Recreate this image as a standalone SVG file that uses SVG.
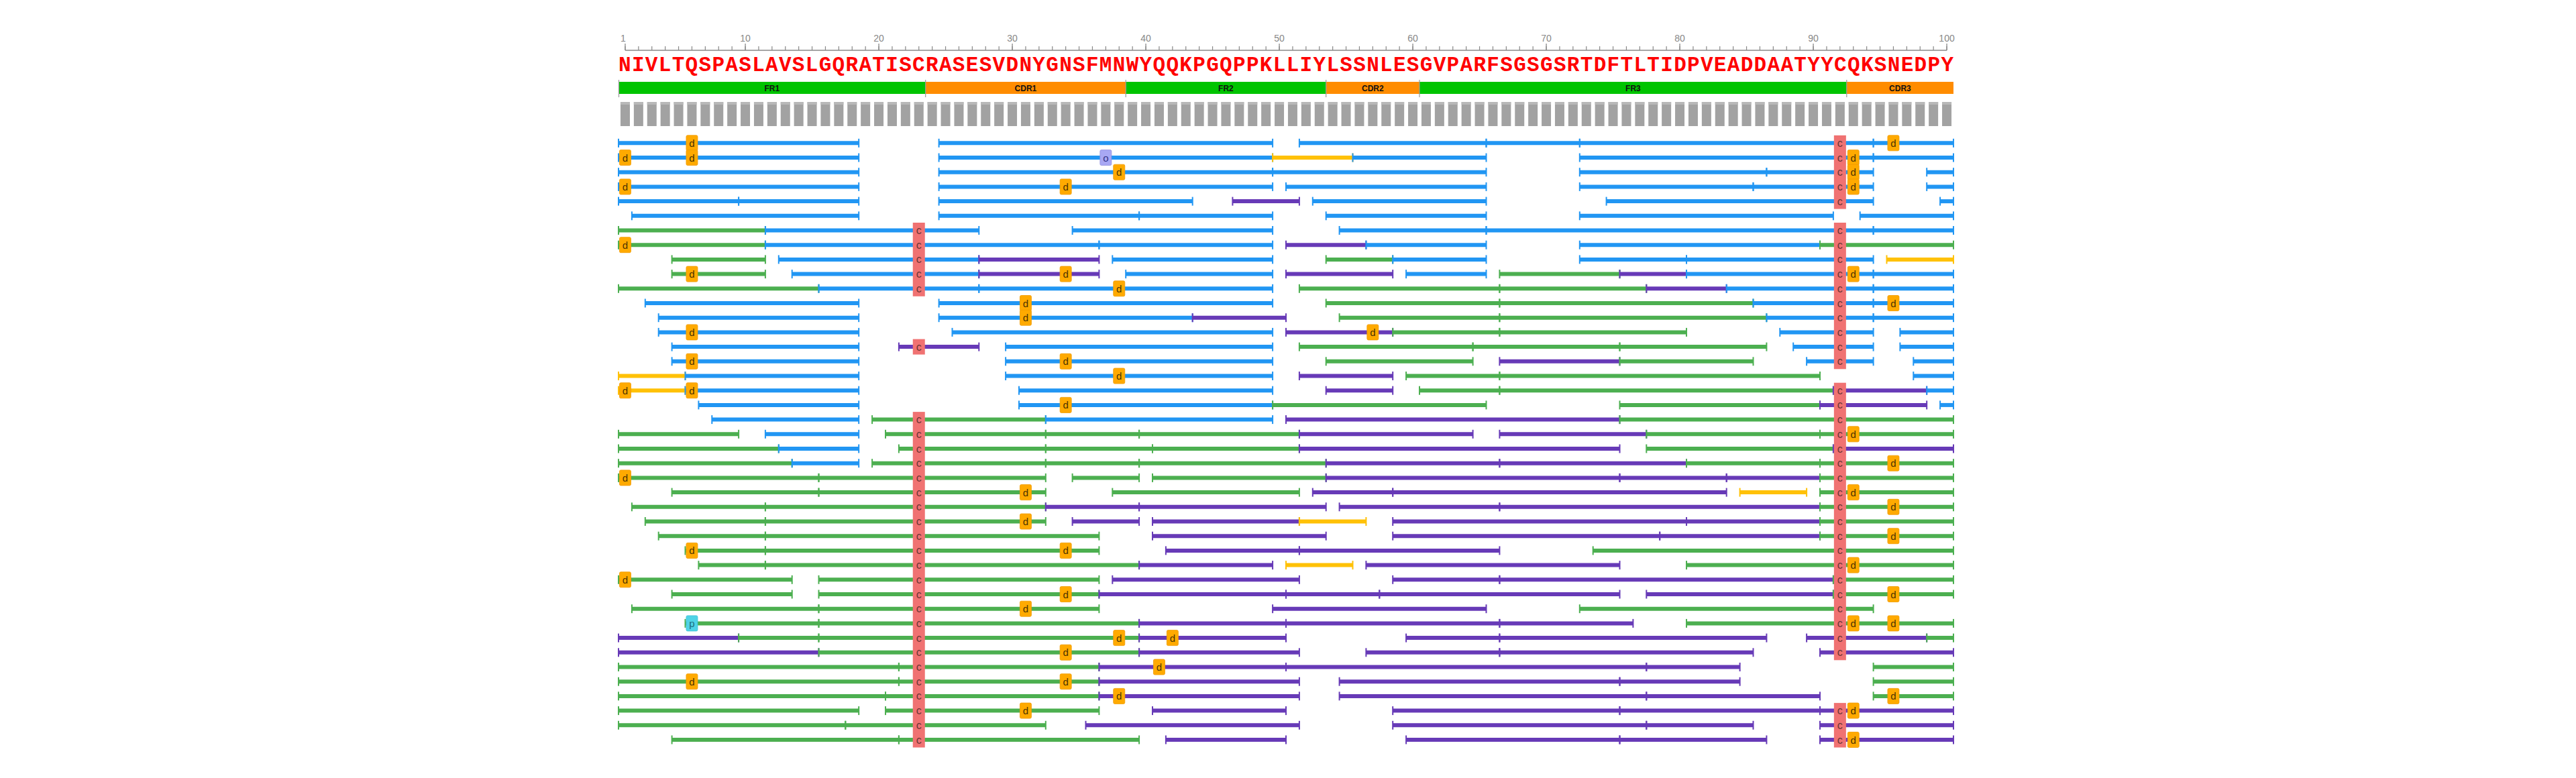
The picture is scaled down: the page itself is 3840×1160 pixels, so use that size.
<svg xmlns="http://www.w3.org/2000/svg" width="3840" height="1160" viewBox="0 0 3840 1160">
<defs>
<marker id="cb" markerUnits="userSpaceOnUse" markerWidth="4" markerHeight="16" viewBox="0 0 4 16" refX="2" refY="8"><rect x="1" y="1.5" width="2" height="13" fill="#2196F3"/></marker>
<marker id="cg" markerUnits="userSpaceOnUse" markerWidth="4" markerHeight="16" viewBox="0 0 4 16" refX="2" refY="8"><rect x="1" y="1.5" width="2" height="13" fill="#4CAF50"/></marker>
<marker id="cp" markerUnits="userSpaceOnUse" markerWidth="4" markerHeight="16" viewBox="0 0 4 16" refX="2" refY="8"><rect x="1" y="1.5" width="2" height="13" fill="#673AB7"/></marker>
<marker id="cy" markerUnits="userSpaceOnUse" markerWidth="4" markerHeight="16" viewBox="0 0 4 16" refX="2" refY="8"><rect x="1" y="1.5" width="2" height="13" fill="#FFC107"/></marker>
</defs>
<style>
.b,.g,.p,.y{stroke-width:6;fill:none}
.b{stroke:#2196F3;marker-start:url(#cb);marker-end:url(#cb)}
.g{stroke:#4CAF50;marker-start:url(#cg);marker-end:url(#cg)}
.p{stroke:#673AB7;marker-start:url(#cp);marker-end:url(#cp)}
.y{stroke:#FFC107;marker-start:url(#cy);marker-end:url(#cy)}
.md{fill:#FFAA00;stroke:#F09A00;stroke-width:0.8}
.mo{fill:#A8A8F4;stroke:#9090E0;stroke-width:0.8}
.mp{fill:#4FD3E6;stroke:#3CC0D6;stroke-width:0.8}
.tm{font-family:"Liberation Sans",Arial,sans-serif;font-size:15px;fill:#4a3300;text-anchor:middle}
.to{font-family:"Liberation Sans",Arial,sans-serif;font-size:15px;fill:#36368a;text-anchor:middle}
.tp{font-family:"Liberation Sans",Arial,sans-serif;font-size:15px;fill:#1d6f80;text-anchor:middle}
.cy{fill:#F07272}
.tc{font-family:"Liberation Sans",Arial,sans-serif;font-size:16px;fill:#6a3535;text-anchor:middle}
.rl{font-family:"Liberation Sans",Arial,sans-serif;font-size:14px;fill:#888;text-anchor:middle}
.rg{font-family:"Liberation Sans",Arial,sans-serif;font-size:12px;font-weight:bold;fill:#111;text-anchor:middle}
.seq{font-family:"Liberation Mono","Courier New",monospace;font-size:31px;font-weight:bold;fill:#FF0000}
</style>
<rect width="3840" height="1160" fill="#fff"/>

<g id="ruler">
<line x1="931.95" y1="75" x2="2902.05" y2="75" stroke="#888" stroke-width="1.5"/>
<line x1="931.35" y1="72" x2="2903" y2="72" stroke="#888" stroke-width="6" stroke-dasharray="1.2 18.7"/>
<path d="M931.95 65V75M1111.05 65V75M1310.05 65V75M1509.05 65V75M1708.05 65V75M1907.05 65V75M2106.05 65V75M2305.05 65V75M2504.05 65V75M2703.05 65V75M2902.05 65V75" stroke="#888" stroke-width="1.3"/>
<text class="rl" x="929" y="62">1</text>
<text class="rl" x="1111.05" y="62">10</text>
<text class="rl" x="1310.05" y="62">20</text>
<text class="rl" x="1509.05" y="62">30</text>
<text class="rl" x="1708.05" y="62">40</text>
<text class="rl" x="1907.05" y="62">50</text>
<text class="rl" x="2106.05" y="62">60</text>
<text class="rl" x="2305.05" y="62">70</text>
<text class="rl" x="2504.05" y="62">80</text>
<text class="rl" x="2703.05" y="62">90</text>
<text class="rl" x="2902.05" y="62">100</text>
</g>

<g id="sequence">
<text class="seq" x="922" y="106" textLength="1990" lengthAdjust="spacing">NIVLTQSPASLAVSLGQRATISCRASESVDNYGNSFMNWYQQKPGQPPKLLIYLSSNLESGVPARFSGSGSRTDFTLTIDPVEADDAATYYCQKSNEDPY</text>
</g>

<g id="regions">
<rect x="922" y="122" width="457.7" height="18" fill="#00C400"/>
<rect x="1379.7" y="122" width="298.5" height="18" fill="#FF8C00"/>
<rect x="1678.2" y="122" width="298.5" height="18" fill="#00C400"/>
<rect x="1976.7" y="122" width="139.3" height="18" fill="#FF8C00"/>
<rect x="2116" y="122" width="636.8" height="18" fill="#00C400"/>
<rect x="2752.8" y="122" width="159.2" height="18" fill="#FF8C00"/>
<path d="M922.5 119V145M1379.7 119V145M1678.2 119V145M1976.7 119V145M2116 119V145M2752.8 119V145" stroke="#999" stroke-width="1.2"/>
<text class="rg" x="1150.85" y="135.5">FR1</text>
<text class="rg" x="1528.95" y="135.5">CDR1</text>
<text class="rg" x="1827.45" y="135.5">FR2</text>
<text class="rg" x="2046.35" y="135.5">CDR2</text>
<text class="rg" x="2434.4" y="135.5">FR3</text>
<text class="rg" x="2832.4" y="135.5">CDR3</text>
</g>

<g id="coverage">
<line x1="924.95" y1="170" x2="2912" y2="170" stroke="#A2A2A2" stroke-width="36" stroke-dasharray="14 5.9"/>
<line x1="924.95" y1="154" x2="2912" y2="154" stroke="#B8B8B8" stroke-width="4" stroke-dasharray="14 5.9"/>
</g>

<g id="reads">
<g id="read-1" transform="translate(0,213.3)">
<line class="b" x1="922" x2="1280.2"/><line class="b" x1="1399.6" x2="1897.1"/><line class="b" x1="1936.9" x2="2215.5"/><line class="b" x1="2215.5" x2="2354.8"/><line class="b" x1="2354.8" x2="2792.6"/><line class="b" x1="2792.6" x2="2912"/>
<rect class="md" x="1022.95" y="-11.5" width="17" height="23" rx="2"/><text class="tm" x="1031.45" y="5.5">d</text>
<rect class="md" x="2813.95" y="-11.5" width="17" height="23" rx="2"/><text class="tm" x="2822.45" y="5.5">d</text>
</g>
<g id="read-2" transform="translate(0,235)">
<line class="b" x1="922" x2="1280.2"/><line class="b" x1="1399.6" x2="1897.1"/><line class="y" x1="1897.1" x2="2016.5"/><line class="b" x1="2016.5" x2="2215.5"/><line class="b" x1="2354.8" x2="2792.6"/><line class="b" x1="2792.6" x2="2912"/>
<rect class="md" x="923.45" y="-11.5" width="17" height="23" rx="2"/><text class="tm" x="931.95" y="5.5">d</text>
<rect class="md" x="1022.95" y="-11.5" width="17" height="23" rx="2"/><text class="tm" x="1031.45" y="5.5">d</text>
<rect class="mo" x="1639.85" y="-11.5" width="17" height="23" rx="2"/><text class="to" x="1648.35" y="5.5">o</text>
<rect class="md" x="2754.25" y="-11.5" width="17" height="23" rx="2"/><text class="tm" x="2762.75" y="5.5">d</text>
</g>
<g id="read-3" transform="translate(0,256.7)">
<line class="b" x1="922" x2="1280.2"/><line class="b" x1="1399.6" x2="1897.1"/><line class="b" x1="1897.1" x2="2215.5"/><line class="b" x1="2354.8" x2="2633.4"/><line class="b" x1="2633.4" x2="2792.6"/><line class="b" x1="2872.2" x2="2912"/>
<rect class="md" x="1659.75" y="-11.5" width="17" height="23" rx="2"/><text class="tm" x="1668.25" y="5.5">d</text>
<rect class="md" x="2754.25" y="-11.5" width="17" height="23" rx="2"/><text class="tm" x="2762.75" y="5.5">d</text>
</g>
<g id="read-4" transform="translate(0,278.4)">
<line class="b" x1="922" x2="1280.2"/><line class="b" x1="1399.6" x2="1897.1"/><line class="b" x1="1917" x2="2215.5"/><line class="b" x1="2354.8" x2="2613.5"/><line class="b" x1="2613.5" x2="2792.6"/><line class="b" x1="2872.2" x2="2912"/>
<rect class="md" x="923.45" y="-11.5" width="17" height="23" rx="2"/><text class="tm" x="931.95" y="5.5">d</text>
<rect class="md" x="1580.15" y="-11.5" width="17" height="23" rx="2"/><text class="tm" x="1588.65" y="5.5">d</text>
<rect class="md" x="2754.25" y="-11.5" width="17" height="23" rx="2"/><text class="tm" x="2762.75" y="5.5">d</text>
</g>
<g id="read-5" transform="translate(0,300.1)">
<line class="b" x1="922" x2="1101.1"/><line class="b" x1="1101.1" x2="1280.2"/><line class="b" x1="1399.6" x2="1777.7"/><line class="p" x1="1837.4" x2="1936.9"/><line class="b" x1="1956.8" x2="2215.5"/><line class="b" x1="2394.6" x2="2792.6"/><line class="b" x1="2892.1" x2="2912"/>
</g>
<g id="read-6" transform="translate(0,321.8)">
<line class="b" x1="941.9" x2="1280.2"/><line class="b" x1="1399.6" x2="1698.1"/><line class="b" x1="1698.1" x2="1897.1"/><line class="b" x1="1976.7" x2="2215.5"/><line class="b" x1="2354.8" x2="2732.9"/><line class="b" x1="2772.7" x2="2912"/>
</g>
<g id="read-7" transform="translate(0,343.5)">
<line class="g" x1="922" x2="1140.9"/><line class="b" x1="1140.9" x2="1459.3"/><line class="b" x1="1598.6" x2="1897.1"/><line class="b" x1="1996.6" x2="2215.5"/><line class="b" x1="2215.5" x2="2792.6"/><line class="b" x1="2792.6" x2="2912"/>
</g>
<g id="read-8" transform="translate(0,365.2)">
<line class="g" x1="922" x2="1140.9"/><line class="b" x1="1140.9" x2="1638.4"/><line class="b" x1="1638.4" x2="1897.1"/><line class="p" x1="1917" x2="2036.4"/><line class="b" x1="2036.4" x2="2215.5"/><line class="b" x1="2354.8" x2="2713"/><line class="g" x1="2713" x2="2912"/>
<rect class="md" x="923.45" y="-11.5" width="17" height="23" rx="2"/><text class="tm" x="931.95" y="5.5">d</text>
</g>
<g id="read-9" transform="translate(0,386.9)">
<line class="g" x1="1001.6" x2="1140.9"/><line class="b" x1="1160.8" x2="1459.3"/><line class="p" x1="1459.3" x2="1638.4"/><line class="b" x1="1658.3" x2="1897.1"/><line class="g" x1="1976.7" x2="2076.2"/><line class="b" x1="2076.2" x2="2215.5"/><line class="b" x1="2354.8" x2="2514"/><line class="b" x1="2514" x2="2792.6"/><line class="y" x1="2812.5" x2="2912"/>
</g>
<g id="read-10" transform="translate(0,408.6)">
<line class="g" x1="1001.6" x2="1140.9"/><line class="b" x1="1180.7" x2="1459.3"/><line class="p" x1="1459.3" x2="1638.4"/><line class="b" x1="1678.2" x2="1897.1"/><line class="p" x1="1917" x2="2076.2"/><line class="b" x1="2096.1" x2="2215.5"/><line class="g" x1="2235.4" x2="2414.5"/><line class="p" x1="2414.5" x2="2514"/><line class="b" x1="2514" x2="2792.6"/><line class="b" x1="2792.6" x2="2912"/>
<rect class="md" x="1022.95" y="-11.5" width="17" height="23" rx="2"/><text class="tm" x="1031.45" y="5.5">d</text>
<rect class="md" x="1580.15" y="-11.5" width="17" height="23" rx="2"/><text class="tm" x="1588.65" y="5.5">d</text>
<rect class="md" x="2754.25" y="-11.5" width="17" height="23" rx="2"/><text class="tm" x="2762.75" y="5.5">d</text>
</g>
<g id="read-11" transform="translate(0,430.3)">
<line class="g" x1="922" x2="1220.5"/><line class="b" x1="1220.5" x2="1459.3"/><line class="b" x1="1459.3" x2="1897.1"/><line class="g" x1="1936.9" x2="2235.4"/><line class="g" x1="2235.4" x2="2454.3"/><line class="p" x1="2454.3" x2="2573.7"/><line class="b" x1="2573.7" x2="2792.6"/><line class="b" x1="2792.6" x2="2912"/>
<rect class="md" x="1659.75" y="-11.5" width="17" height="23" rx="2"/><text class="tm" x="1668.25" y="5.5">d</text>
</g>
<g id="read-12" transform="translate(0,452)">
<line class="b" x1="961.8" x2="1280.2"/><line class="b" x1="1399.6" x2="1897.1"/><line class="g" x1="1976.7" x2="2235.4"/><line class="g" x1="2235.4" x2="2613.5"/><line class="b" x1="2613.5" x2="2792.6"/><line class="b" x1="2792.6" x2="2912"/>
<rect class="md" x="1520.45" y="-11.5" width="17" height="23" rx="2"/><text class="tm" x="1528.95" y="5.5">d</text>
<rect class="md" x="2813.95" y="-11.5" width="17" height="23" rx="2"/><text class="tm" x="2822.45" y="5.5">d</text>
</g>
<g id="read-13" transform="translate(0,473.7)">
<line class="b" x1="981.7" x2="1280.2"/><line class="b" x1="1399.6" x2="1777.7"/><line class="p" x1="1777.7" x2="1917"/><line class="g" x1="1996.6" x2="2235.4"/><line class="g" x1="2235.4" x2="2633.4"/><line class="b" x1="2633.4" x2="2792.6"/><line class="b" x1="2792.6" x2="2912"/>
<rect class="md" x="1520.45" y="-11.5" width="17" height="23" rx="2"/><text class="tm" x="1528.95" y="5.5">d</text>
</g>
<g id="read-14" transform="translate(0,495.4)">
<line class="b" x1="981.7" x2="1280.2"/><line class="b" x1="1419.5" x2="1897.1"/><line class="p" x1="1917" x2="2076.2"/><line class="g" x1="2076.2" x2="2235.4"/><line class="g" x1="2235.4" x2="2514"/><line class="b" x1="2653.3" x2="2792.6"/><line class="b" x1="2832.4" x2="2912"/>
<rect class="md" x="1022.95" y="-11.5" width="17" height="23" rx="2"/><text class="tm" x="1031.45" y="5.5">d</text>
<rect class="md" x="2037.85" y="-11.5" width="17" height="23" rx="2"/><text class="tm" x="2046.35" y="5.5">d</text>
</g>
<g id="read-15" transform="translate(0,517.1)">
<line class="b" x1="1001.6" x2="1280.2"/><line class="p" x1="1339.9" x2="1459.3"/><line class="b" x1="1499.1" x2="1897.1"/><line class="g" x1="1936.9" x2="2195.6"/><line class="g" x1="2195.6" x2="2414.5"/><line class="g" x1="2414.5" x2="2633.4"/><line class="b" x1="2673.2" x2="2792.6"/><line class="b" x1="2832.4" x2="2912"/>
</g>
<g id="read-16" transform="translate(0,538.8)">
<line class="b" x1="1001.6" x2="1280.2"/><line class="b" x1="1499.1" x2="1897.1"/><line class="g" x1="1976.7" x2="2195.6"/><line class="p" x1="2235.4" x2="2414.5"/><line class="g" x1="2414.5" x2="2613.5"/><line class="b" x1="2693.1" x2="2792.6"/><line class="b" x1="2852.3" x2="2912"/>
<rect class="md" x="1022.95" y="-11.5" width="17" height="23" rx="2"/><text class="tm" x="1031.45" y="5.5">d</text>
<rect class="md" x="1580.15" y="-11.5" width="17" height="23" rx="2"/><text class="tm" x="1588.65" y="5.5">d</text>
</g>
<g id="read-17" transform="translate(0,560.5)">
<line class="y" x1="922" x2="1021.5"/><line class="b" x1="1021.5" x2="1280.2"/><line class="b" x1="1499.1" x2="1897.1"/><line class="p" x1="1936.9" x2="2076.2"/><line class="g" x1="2096.1" x2="2235.4"/><line class="g" x1="2235.4" x2="2713"/><line class="b" x1="2852.3" x2="2912"/>
<rect class="md" x="1659.75" y="-11.5" width="17" height="23" rx="2"/><text class="tm" x="1668.25" y="5.5">d</text>
</g>
<g id="read-18" transform="translate(0,582.2)">
<line class="y" x1="922" x2="1021.5"/><line class="b" x1="1021.5" x2="1280.2"/><line class="b" x1="1519" x2="1897.1"/><line class="p" x1="1976.7" x2="2076.2"/><line class="g" x1="2116" x2="2235.4"/><line class="g" x1="2235.4" x2="2732.9"/><line class="p" x1="2732.9" x2="2872.2"/><line class="b" x1="2872.2" x2="2912"/>
<rect class="md" x="923.45" y="-11.5" width="17" height="23" rx="2"/><text class="tm" x="931.95" y="5.5">d</text>
<rect class="md" x="1022.95" y="-11.5" width="17" height="23" rx="2"/><text class="tm" x="1031.45" y="5.5">d</text>
</g>
<g id="read-19" transform="translate(0,603.9)">
<line class="b" x1="1041.4" x2="1280.2"/><line class="b" x1="1519" x2="1897.1"/><line class="g" x1="1897.1" x2="2215.5"/><line class="g" x1="2414.5" x2="2713"/><line class="p" x1="2713" x2="2872.2"/><line class="b" x1="2892.1" x2="2912"/>
<rect class="md" x="1580.15" y="-11.5" width="17" height="23" rx="2"/><text class="tm" x="1588.65" y="5.5">d</text>
</g>
<g id="read-20" transform="translate(0,625.6)">
<line class="b" x1="1061.3" x2="1280.2"/><line class="g" x1="1300.1" x2="1558.8"/><line class="b" x1="1558.8" x2="1897.1"/><line class="p" x1="1917" x2="2414.5"/><line class="g" x1="2414.5" x2="2912"/>
</g>
<g id="read-21" transform="translate(0,647.3)">
<line class="g" x1="922" x2="1101.1"/><line class="b" x1="1140.9" x2="1280.2"/><line class="g" x1="1320" x2="1558.8"/><line class="g" x1="1558.8" x2="1698.1"/><line class="g" x1="1698.1" x2="1936.9"/><line class="p" x1="1936.9" x2="2195.6"/><line class="p" x1="2235.4" x2="2454.3"/><line class="g" x1="2454.3" x2="2713"/><line class="g" x1="2713" x2="2912"/>
<rect class="md" x="2754.25" y="-11.5" width="17" height="23" rx="2"/><text class="tm" x="2762.75" y="5.5">d</text>
</g>
<g id="read-22" transform="translate(0,669)">
<line class="g" x1="922" x2="1160.8"/><line class="b" x1="1160.8" x2="1280.2"/><line class="g" x1="1339.9" x2="1558.8"/><line class="g" x1="1558.8" x2="1718"/><line class="g" x1="1718" x2="1936.9"/><line class="p" x1="1936.9" x2="2414.5"/><line class="g" x1="2454.3" x2="2732.9"/><line class="p" x1="2732.9" x2="2912"/>
</g>
<g id="read-23" transform="translate(0,690.7)">
<line class="g" x1="922" x2="1180.7"/><line class="b" x1="1180.7" x2="1280.2"/><line class="g" x1="1300.1" x2="1558.8"/><line class="g" x1="1558.8" x2="1698.1"/><line class="g" x1="1698.1" x2="1976.7"/><line class="p" x1="1976.7" x2="2235.4"/><line class="p" x1="2235.4" x2="2514"/><line class="g" x1="2514" x2="2713"/><line class="g" x1="2713" x2="2912"/>
<rect class="md" x="2813.95" y="-11.5" width="17" height="23" rx="2"/><text class="tm" x="2822.45" y="5.5">d</text>
</g>
<g id="read-24" transform="translate(0,712.4)">
<line class="g" x1="922" x2="1220.5"/><line class="g" x1="1220.5" x2="1558.8"/><line class="g" x1="1598.6" x2="1698.1"/><line class="g" x1="1718" x2="1976.7"/><line class="p" x1="1976.7" x2="2414.5"/><line class="p" x1="2414.5" x2="2573.7"/><line class="p" x1="2573.7" x2="2713"/><line class="g" x1="2713" x2="2912"/>
<rect class="md" x="923.45" y="-11.5" width="17" height="23" rx="2"/><text class="tm" x="931.95" y="5.5">d</text>
</g>
<g id="read-25" transform="translate(0,734.1)">
<line class="g" x1="1001.6" x2="1220.5"/><line class="g" x1="1220.5" x2="1558.8"/><line class="g" x1="1658.3" x2="1936.9"/><line class="p" x1="1956.8" x2="2076.2"/><line class="p" x1="2076.2" x2="2573.7"/><line class="y" x1="2593.6" x2="2693.1"/><line class="g" x1="2713" x2="2912"/>
<rect class="md" x="1520.45" y="-11.5" width="17" height="23" rx="2"/><text class="tm" x="1528.95" y="5.5">d</text>
<rect class="md" x="2754.25" y="-11.5" width="17" height="23" rx="2"/><text class="tm" x="2762.75" y="5.5">d</text>
</g>
<g id="read-26" transform="translate(0,755.8)">
<line class="g" x1="941.9" x2="1140.9"/><line class="g" x1="1140.9" x2="1558.8"/><line class="p" x1="1558.8" x2="1698.1"/><line class="p" x1="1698.1" x2="1976.7"/><line class="p" x1="1996.6" x2="2235.4"/><line class="p" x1="2235.4" x2="2713"/><line class="g" x1="2713" x2="2912"/>
<rect class="md" x="2813.95" y="-11.5" width="17" height="23" rx="2"/><text class="tm" x="2822.45" y="5.5">d</text>
</g>
<g id="read-27" transform="translate(0,777.5)">
<line class="g" x1="961.8" x2="1140.9"/><line class="g" x1="1140.9" x2="1558.8"/><line class="p" x1="1598.6" x2="1698.1"/><line class="p" x1="1718" x2="1936.9"/><line class="y" x1="1936.9" x2="2036.4"/><line class="p" x1="2076.2" x2="2514"/><line class="p" x1="2514" x2="2713"/><line class="g" x1="2713" x2="2912"/>
<rect class="md" x="1520.45" y="-11.5" width="17" height="23" rx="2"/><text class="tm" x="1528.95" y="5.5">d</text>
</g>
<g id="read-28" transform="translate(0,799.2)">
<line class="g" x1="981.7" x2="1140.9"/><line class="g" x1="1140.9" x2="1638.4"/><line class="p" x1="1718" x2="1976.7"/><line class="p" x1="2076.2" x2="2474.2"/><line class="p" x1="2474.2" x2="2713"/><line class="g" x1="2713" x2="2912"/>
<rect class="md" x="2813.95" y="-11.5" width="17" height="23" rx="2"/><text class="tm" x="2822.45" y="5.5">d</text>
</g>
<g id="read-29" transform="translate(0,820.9)">
<line class="g" x1="1021.5" x2="1140.9"/><line class="g" x1="1140.9" x2="1638.4"/><line class="p" x1="1737.9" x2="1936.9"/><line class="p" x1="1936.9" x2="2235.4"/><line class="g" x1="2374.7" x2="2912"/>
<rect class="md" x="1022.95" y="-11.5" width="17" height="23" rx="2"/><text class="tm" x="1031.45" y="5.5">d</text>
<rect class="md" x="1580.15" y="-11.5" width="17" height="23" rx="2"/><text class="tm" x="1588.65" y="5.5">d</text>
</g>
<g id="read-30" transform="translate(0,842.6)">
<line class="g" x1="1041.4" x2="1140.9"/><line class="g" x1="1140.9" x2="1698.1"/><line class="p" x1="1698.1" x2="1897.1"/><line class="y" x1="1917" x2="2016.5"/><line class="p" x1="2036.4" x2="2414.5"/><line class="g" x1="2514" x2="2912"/>
<rect class="md" x="2754.25" y="-11.5" width="17" height="23" rx="2"/><text class="tm" x="2762.75" y="5.5">d</text>
</g>
<g id="read-31" transform="translate(0,864.3)">
<line class="g" x1="922" x2="1180.7"/><line class="g" x1="1220.5" x2="1638.4"/><line class="p" x1="1658.3" x2="1936.9"/><line class="p" x1="2076.2" x2="2235.4"/><line class="p" x1="2235.4" x2="2732.9"/><line class="g" x1="2732.9" x2="2912"/>
<rect class="md" x="923.45" y="-11.5" width="17" height="23" rx="2"/><text class="tm" x="931.95" y="5.5">d</text>
</g>
<g id="read-32" transform="translate(0,886)">
<line class="g" x1="1001.6" x2="1180.7"/><line class="g" x1="1220.5" x2="1638.4"/><line class="p" x1="1638.4" x2="1917"/><line class="p" x1="1917" x2="2056.3"/><line class="p" x1="2056.3" x2="2414.5"/><line class="p" x1="2454.3" x2="2732.9"/><line class="g" x1="2732.9" x2="2912"/>
<rect class="md" x="1580.15" y="-11.5" width="17" height="23" rx="2"/><text class="tm" x="1588.65" y="5.5">d</text>
<rect class="md" x="2813.95" y="-11.5" width="17" height="23" rx="2"/><text class="tm" x="2822.45" y="5.5">d</text>
</g>
<g id="read-33" transform="translate(0,907.7)">
<line class="g" x1="941.9" x2="1220.5"/><line class="g" x1="1220.5" x2="1638.4"/><line class="p" x1="1897.1" x2="2215.5"/><line class="g" x1="2354.8" x2="2792.6"/>
<rect class="md" x="1520.45" y="-11.5" width="17" height="23" rx="2"/><text class="tm" x="1528.95" y="5.5">d</text>
</g>
<g id="read-34" transform="translate(0,929.4)">
<line class="g" x1="1021.5" x2="1220.5"/><line class="g" x1="1220.5" x2="1698.1"/><line class="p" x1="1698.1" x2="1917"/><line class="p" x1="1917" x2="2235.4"/><line class="p" x1="2235.4" x2="2434.4"/><line class="g" x1="2514" x2="2912"/>
<rect class="mp" x="1022.95" y="-11.5" width="17" height="23" rx="2"/><text class="tp" x="1031.45" y="5.5">p</text>
<rect class="md" x="2754.25" y="-11.5" width="17" height="23" rx="2"/><text class="tm" x="2762.75" y="5.5">d</text>
<rect class="md" x="2813.95" y="-11.5" width="17" height="23" rx="2"/><text class="tm" x="2822.45" y="5.5">d</text>
</g>
<g id="read-35" transform="translate(0,951.1)">
<line class="p" x1="922" x2="1101.1"/><line class="g" x1="1101.1" x2="1220.5"/><line class="g" x1="1220.5" x2="1698.1"/><line class="p" x1="1698.1" x2="1917"/><line class="p" x1="2096.1" x2="2235.4"/><line class="p" x1="2235.4" x2="2633.4"/><line class="p" x1="2693.1" x2="2872.2"/><line class="g" x1="2872.2" x2="2912"/>
<rect class="md" x="1659.75" y="-11.5" width="17" height="23" rx="2"/><text class="tm" x="1668.25" y="5.5">d</text>
<rect class="md" x="1739.35" y="-11.5" width="17" height="23" rx="2"/><text class="tm" x="1747.85" y="5.5">d</text>
</g>
<g id="read-36" transform="translate(0,972.8)">
<line class="p" x1="922" x2="1220.5"/><line class="g" x1="1220.5" x2="1698.1"/><line class="p" x1="1698.1" x2="1936.9"/><line class="p" x1="2036.4" x2="2235.4"/><line class="p" x1="2235.4" x2="2613.5"/><line class="p" x1="2713" x2="2912"/>
<rect class="md" x="1580.15" y="-11.5" width="17" height="23" rx="2"/><text class="tm" x="1588.65" y="5.5">d</text>
</g>
<g id="read-37" transform="translate(0,994.5)">
<line class="g" x1="922" x2="1339.9"/><line class="g" x1="1339.9" x2="1638.4"/><line class="p" x1="1638.4" x2="1917"/><line class="p" x1="1917" x2="2454.3"/><line class="p" x1="2454.3" x2="2593.6"/><line class="g" x1="2792.6" x2="2912"/>
<rect class="md" x="1719.45" y="-11.5" width="17" height="23" rx="2"/><text class="tm" x="1727.95" y="5.5">d</text>
</g>
<g id="read-38" transform="translate(0,1016.2)">
<line class="g" x1="922" x2="1339.9"/><line class="g" x1="1339.9" x2="1638.4"/><line class="p" x1="1638.4" x2="1936.9"/><line class="p" x1="1996.6" x2="2414.5"/><line class="p" x1="2414.5" x2="2593.6"/><line class="g" x1="2792.6" x2="2912"/>
<rect class="md" x="1022.95" y="-11.5" width="17" height="23" rx="2"/><text class="tm" x="1031.45" y="5.5">d</text>
<rect class="md" x="1580.15" y="-11.5" width="17" height="23" rx="2"/><text class="tm" x="1588.65" y="5.5">d</text>
</g>
<g id="read-39" transform="translate(0,1037.9)">
<line class="g" x1="922" x2="1320"/><line class="g" x1="1320" x2="1638.4"/><line class="p" x1="1638.4" x2="1936.9"/><line class="p" x1="1996.6" x2="2454.3"/><line class="p" x1="2454.3" x2="2713"/><line class="g" x1="2792.6" x2="2912"/>
<rect class="md" x="1659.75" y="-11.5" width="17" height="23" rx="2"/><text class="tm" x="1668.25" y="5.5">d</text>
<rect class="md" x="2813.95" y="-11.5" width="17" height="23" rx="2"/><text class="tm" x="2822.45" y="5.5">d</text>
</g>
<g id="read-40" transform="translate(0,1059.6)">
<line class="g" x1="922" x2="1280.2"/><line class="g" x1="1320" x2="1638.4"/><line class="p" x1="1718" x2="1917"/><line class="p" x1="2076.2" x2="2414.5"/><line class="p" x1="2414.5" x2="2713"/><line class="p" x1="2713" x2="2912"/>
<rect class="md" x="1520.45" y="-11.5" width="17" height="23" rx="2"/><text class="tm" x="1528.95" y="5.5">d</text>
<rect class="md" x="2754.25" y="-11.5" width="17" height="23" rx="2"/><text class="tm" x="2762.75" y="5.5">d</text>
</g>
<g id="read-41" transform="translate(0,1081.3)">
<line class="g" x1="922" x2="1260.3"/><line class="g" x1="1260.3" x2="1558.8"/><line class="p" x1="1618.5" x2="1936.9"/><line class="p" x1="2076.2" x2="2454.3"/><line class="p" x1="2454.3" x2="2613.5"/><line class="p" x1="2713" x2="2912"/>
</g>
<g id="read-42" transform="translate(0,1103)">
<line class="g" x1="1001.6" x2="1339.9"/><line class="g" x1="1339.9" x2="1698.1"/><line class="p" x1="1737.9" x2="1917"/><line class="p" x1="2096.1" x2="2414.5"/><line class="p" x1="2414.5" x2="2633.4"/><line class="p" x1="2713" x2="2912"/>
<rect class="md" x="2754.25" y="-11.5" width="17" height="23" rx="2"/><text class="tm" x="2762.75" y="5.5">d</text>
</g>
</g>

<g id="cys-23">
<rect class="cy" x="1360.75" y="332" width="18" height="109.8"/>
<rect class="cy" x="1360.75" y="505.6" width="18" height="23"/>
<rect class="cy" x="1360.75" y="614.1" width="18" height="500.4"/>
<text class="tc" x="1369.75" y="349">c</text><text class="tc" x="1369.75" y="370.7">c</text><text class="tc" x="1369.75" y="392.4">c</text><text class="tc" x="1369.75" y="414.1">c</text><text class="tc" x="1369.75" y="435.8">c</text>
<text class="tc" x="1369.75" y="522.6">c</text>
<text class="tc" x="1369.75" y="631.1">c</text><text class="tc" x="1369.75" y="652.8">c</text><text class="tc" x="1369.75" y="674.5">c</text><text class="tc" x="1369.75" y="696.2">c</text><text class="tc" x="1369.75" y="717.9">c</text><text class="tc" x="1369.75" y="739.6">c</text><text class="tc" x="1369.75" y="761.3">c</text><text class="tc" x="1369.75" y="783">c</text><text class="tc" x="1369.75" y="804.7">c</text><text class="tc" x="1369.75" y="826.4">c</text><text class="tc" x="1369.75" y="848.1">c</text><text class="tc" x="1369.75" y="869.8">c</text><text class="tc" x="1369.75" y="891.5">c</text><text class="tc" x="1369.75" y="913.2">c</text><text class="tc" x="1369.75" y="934.9">c</text><text class="tc" x="1369.75" y="956.6">c</text><text class="tc" x="1369.75" y="978.3">c</text><text class="tc" x="1369.75" y="1000">c</text><text class="tc" x="1369.75" y="1021.7">c</text><text class="tc" x="1369.75" y="1043.4">c</text><text class="tc" x="1369.75" y="1065.1">c</text><text class="tc" x="1369.75" y="1086.8">c</text><text class="tc" x="1369.75" y="1108.5">c</text>
</g>

<g id="cys-92">
<rect class="cy" x="2733.85" y="201.8" width="18" height="109.8"/>
<rect class="cy" x="2733.85" y="332" width="18" height="218.3"/>
<rect class="cy" x="2733.85" y="570.7" width="18" height="413.6"/>
<rect class="cy" x="2733.85" y="1048.1" width="18" height="66.4"/>
<text class="tc" x="2742.85" y="218.8">c</text><text class="tc" x="2742.85" y="240.5">c</text><text class="tc" x="2742.85" y="262.2">c</text><text class="tc" x="2742.85" y="283.9">c</text><text class="tc" x="2742.85" y="305.6">c</text>
<text class="tc" x="2742.85" y="349">c</text><text class="tc" x="2742.85" y="370.7">c</text><text class="tc" x="2742.85" y="392.4">c</text><text class="tc" x="2742.85" y="414.1">c</text><text class="tc" x="2742.85" y="435.8">c</text><text class="tc" x="2742.85" y="457.5">c</text><text class="tc" x="2742.85" y="479.2">c</text><text class="tc" x="2742.85" y="500.9">c</text><text class="tc" x="2742.85" y="522.6">c</text><text class="tc" x="2742.85" y="544.3">c</text>
<text class="tc" x="2742.85" y="587.7">c</text><text class="tc" x="2742.85" y="609.4">c</text><text class="tc" x="2742.85" y="631.1">c</text><text class="tc" x="2742.85" y="652.8">c</text><text class="tc" x="2742.85" y="674.5">c</text><text class="tc" x="2742.85" y="696.2">c</text><text class="tc" x="2742.85" y="717.9">c</text><text class="tc" x="2742.85" y="739.6">c</text><text class="tc" x="2742.85" y="761.3">c</text><text class="tc" x="2742.85" y="783">c</text><text class="tc" x="2742.85" y="804.7">c</text><text class="tc" x="2742.85" y="826.4">c</text><text class="tc" x="2742.85" y="848.1">c</text><text class="tc" x="2742.85" y="869.8">c</text><text class="tc" x="2742.85" y="891.5">c</text><text class="tc" x="2742.85" y="913.2">c</text><text class="tc" x="2742.85" y="934.9">c</text><text class="tc" x="2742.85" y="956.6">c</text><text class="tc" x="2742.85" y="978.3">c</text>
<text class="tc" x="2742.85" y="1065.1">c</text><text class="tc" x="2742.85" y="1086.8">c</text><text class="tc" x="2742.85" y="1108.5">c</text>
</g>
</svg>
